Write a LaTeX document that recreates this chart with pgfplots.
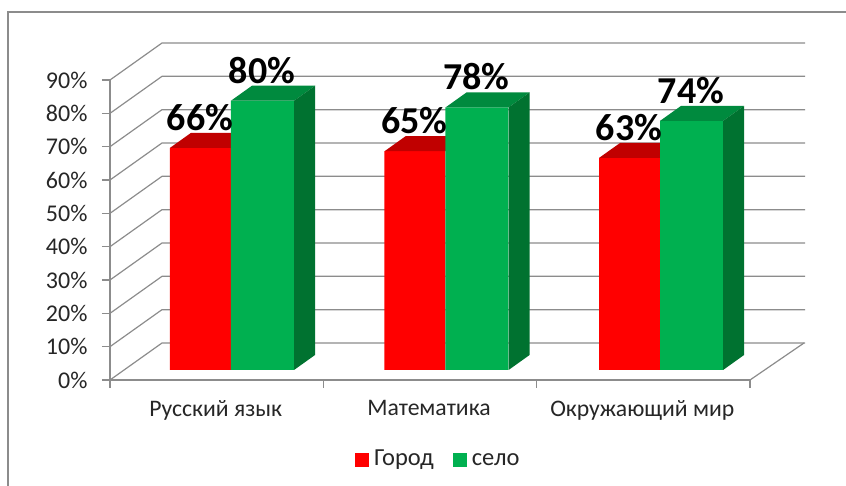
\documentclass[border=0pt]{standalone}
\usepackage{fontspec}
\setmainfont{Carlito}
\usepackage{pgfplots}
\pgfplotsset{compat=1.18}
\definecolor{cred}{HTML}{FF0000}
\definecolor{credtop}{HTML}{C00000}
\definecolor{cgreen}{HTML}{00B050}
\definecolor{cgreentop}{HTML}{008A3E}
\definecolor{cgreenside}{HTML}{007230}
\definecolor{cgrid}{HTML}{8C8C8C}
\definecolor{ctext}{HTML}{262626}
\begin{document}
\begin{tikzpicture}[x=1pt,y=1pt]
\path[use as bounding box] (0,0) rectangle (846,486);
\draw[color=cgrid,line width=1.2pt] (8,0) -- (8,474) -- (846,474);
% frame: walls, gridlines, ticks
\begin{axis}[
  at={(110pt,106pt)},anchor=south west,
  scale only axis,width=640pt,height=300pt,
  xmin=0,xmax=3,ymin=0,ymax=90,clip=false,
  axis x line=bottom,axis y line=left,axis line style={color=cgrid,line width=1.3pt,-},
  tick style={color=cgrid,line width=1.1pt},
  tick align=outside,major tick length=8pt,minor tick length=8pt,
  ytick={0,10,...,90},
  yticklabels={0\%,10\%,20\%,30\%,40\%,50\%,60\%,70\%,80\%,90\%},
  xtick={0.5,1.5,2.5},minor xtick={0,1,2,3},
  x tick style={draw=none},
  minor x tick style={color=cgrid,line width=1.1pt,draw=cgrid},
  xticklabels={Русский язык,Математика,Окружающий мир},
  tick label style={text=ctext},
  yticklabel style={font=\fontsize{24}{27}\selectfont,xshift=-11pt},
  xticklabel style={font=\fontsize{23.7}{27}\selectfont,yshift=-9pt,xshift=-1pt},
]
\pgfplotsinvokeforeach{0,10,...,90}{
  \draw[color=cgrid,line width=1.2pt] (axis cs:0,#1) -- ++(52pt,37pt) -- ++(643pt,0pt);
}
\draw[color=cgrid,line width=1.2pt] (axis cs:3,0) -- ++(54pt,37pt);
\end{axis}
% bars
\begin{axis}[
  at={(110pt,106pt)},anchor=south west,
  scale only axis,width=640pt,height=300pt,
  xmin=-0.564,xmax=2.4196,ymin=-2.971,ymax=86.156,clip=false,
  axis lines=none,
  /pgf/number format/assume math mode=true,
  legend style={at={(0.513,-0.266)},anchor=center,draw=none,fill=none,legend columns=2,
    font=\fontsize{24.5}{27}\selectfont,text=ctext,
    nodes={text height=16pt,text depth=5pt},
    /tikz/every even column/.append style={column sep=17pt}},
  legend image code/.code={\fill[#1] (0pt,-7pt) rectangle (14pt,7pt); \path (17pt,0pt);},
]
% red
\addplot[ybar,bar width=61pt,bar shift=-30.5pt,fill=cred,draw=none,forget plot] coordinates {(0,66) (1,65) (2,63)};
\addplot[fill=credtop,draw=none,forget plot] coordinates {(-0.284,66) (-0.186,70.46) (0.098,70.46) (0,66)} --cycle;
\addplot[fill=credtop,draw=none,forget plot] coordinates {(0.716,65) (0.814,69.46) (1.098,69.46) (1,65)} --cycle;
\addplot[fill=credtop,draw=none,forget plot] coordinates {(1.716,63) (1.814,67.46) (2.098,67.46) (2,63)} --cycle;
% green
\addplot[ybar,bar width=63pt,bar shift=31.5pt,fill=cgreen,draw=none,forget plot] coordinates {(0,80) (1,78) (2,74)};
\addplot[fill=cgreentop,draw=none,forget plot] coordinates {(0,80) (0.098,84.46) (0.392,84.46) (0.294,80)} --cycle;
\addplot[fill=cgreentop,draw=none,forget plot] coordinates {(1,78) (1.098,82.46) (1.392,82.46) (1.294,78)} --cycle;
\addplot[fill=cgreentop,draw=none,forget plot] coordinates {(2,74) (2.098,78.46) (2.392,78.46) (2.294,74)} --cycle;
\addplot[fill=cgreenside,draw=none,forget plot] coordinates {(0.294,0) (0.392,4.46) (0.392,84.46) (0.294,80)} --cycle;
\addplot[fill=cgreenside,draw=none,forget plot] coordinates {(1.294,0) (1.392,4.46) (1.392,82.46) (1.294,78)} --cycle;
\addplot[fill=cgreenside,draw=none,forget plot] coordinates {(2.294,0) (2.392,4.46) (2.392,78.46) (2.294,74)} --cycle;
% value labels
\addplot[ybar,bar width=61pt,bar shift=-30.5pt,draw=none,fill=none,forget plot,
  nodes near coords={\pgfmathprintnumber{\pgfplotspointmeta}\%},
  nodes near coords style={anchor=center,yshift=30.5pt,xshift=-31pt,text=black,font=\fontsize{38}{42}\selectfont\bfseries}]
  coordinates {(0,66) (1,65) (2,63)};
\addplot[ybar,bar width=63pt,bar shift=31.5pt,draw=none,fill=none,forget plot,
  nodes near coords={\pgfmathprintnumber{\pgfplotspointmeta}\%},
  nodes near coords style={anchor=center,yshift=30.5pt,xshift=31pt,text=black,font=\fontsize{38}{42}\selectfont\bfseries}]
  coordinates {(0,80) (1,78) (2,74)};
\addlegendimage{fill=cred,draw=none}
\addlegendentry{Город}
\addlegendimage{fill=cgreen,draw=none}
\addlegendentry{село}
\end{axis}
\end{tikzpicture}
\end{document}
